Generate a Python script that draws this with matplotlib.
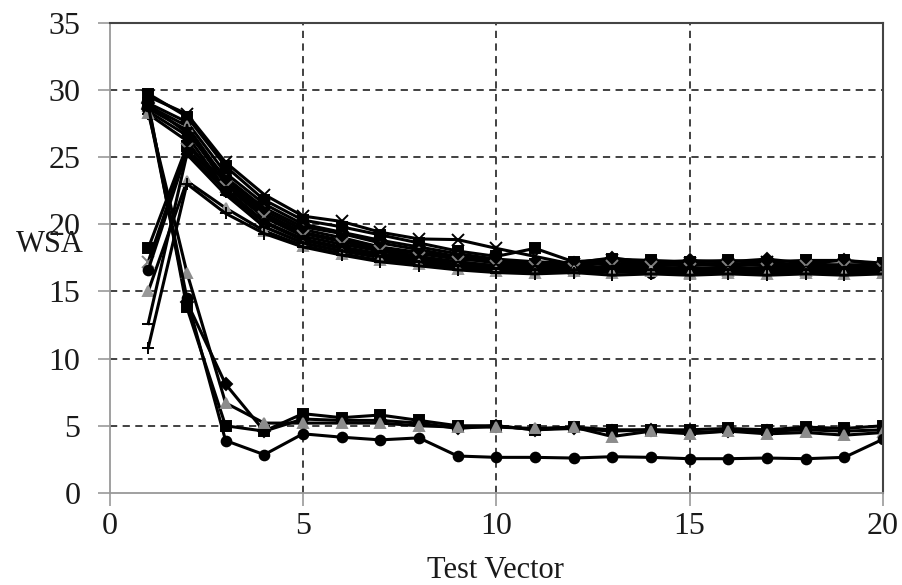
import numpy as np
import matplotlib
matplotlib.use('Agg')
import matplotlib.pyplot as plt

plt.rcParams['font.family'] = ['Liberation Serif', 'DejaVu Serif']

test_vector = list(range(1, 21))

# runs that start high and settle around 17
high_x   = [29.5, 28.2, 24.6, 22.2, 20.6, 20.2, 19.4, 18.9, 18.85, 18.2, 17.6, 17.0, 17.3, 17.0, 17.1, 17.0, 17.2, 16.9, 17.0, 16.9]
high_sq  = [29.7, 28.0, 24.3, 21.8, 20.3, 19.8, 19.2, 18.6, 18.0, 17.6, 18.2, 17.2, 17.4, 17.3, 17.2, 17.3, 17.2, 17.3, 17.3, 17.1]
high_dm  = [29.0, 27.6, 23.8, 21.5, 20.0, 19.4, 18.8, 18.3, 17.8, 17.4, 17.2, 17.1, 17.5, 17.1, 17.3, 17.2, 17.4, 17.1, 17.3, 17.0]
high_tri = [28.8, 27.3, 23.3, 21.0, 19.6, 19.0, 18.3, 17.9, 17.5, 17.1, 16.9, 16.9, 16.7, 16.6, 16.4, 16.5, 16.6, 16.5, 16.6, 16.4]
high_st  = [28.6, 27.0, 23.0, 20.6, 19.3, 18.7, 18.1, 17.6, 17.2, 16.9, 16.8, 16.7, 16.8, 16.7, 16.8, 16.6, 16.8, 16.7, 16.7, 16.6]
high_ci  = [28.4, 26.6, 22.6, 20.2, 18.9, 18.3, 17.8, 17.4, 17.0, 16.8, 16.6, 16.8, 16.6, 16.8, 16.6, 16.7, 16.6, 16.8, 16.6, 16.7]
high_pl  = [28.2, 26.2, 22.4, 19.8, 18.6, 18.0, 17.5, 17.1, 16.8, 16.6, 16.5, 16.4, 16.5, 16.3, 16.6, 16.4, 16.5, 16.4, 16.5, 16.3]
high_da  = [28.9, 26.8, 23.5, 21.2, 19.8, 19.3, 18.6, 18.1, 17.6, 17.3, 17.0, 17.2, 17.0, 17.2, 17.0, 17.1, 16.9, 17.1, 16.9, 17.1]

# runs that start low, peak at vector 2, then join the upper bundle
low_sq  = [18.2, 25.8, 23.2, 20.8, 19.4, 18.8, 18.2, 17.8, 17.4, 17.2, 17.0, 16.9, 17.1, 16.9, 17.0, 16.9, 17.0, 16.8, 16.9, 16.8]
low_x   = [17.2, 25.6, 22.8, 20.5, 19.1, 18.5, 18.0, 17.5, 17.2, 16.9, 16.8, 16.7, 16.9, 16.8, 16.7, 16.8, 16.7, 16.9, 16.8, 16.7]
low_ci  = [16.6, 25.4, 22.5, 20.1, 18.8, 18.2, 17.7, 17.3, 16.9, 16.7, 16.6, 16.5, 16.6, 16.4, 16.6, 16.5, 16.6, 16.5, 16.5, 16.5]
low_tri = [15.0, 23.2, 21.2, 19.5, 18.4, 17.8, 17.3, 17.0, 16.7, 16.5, 16.4, 16.5, 16.4, 16.5, 16.3, 16.4, 16.3, 16.4, 16.3, 16.4]
low_da  = [12.6, 25.2, 22.2, 19.8, 18.6, 18.0, 17.6, 17.2, 16.9, 16.7, 16.6, 16.6, 16.7, 16.6, 16.7, 16.6, 16.7, 16.6, 16.7, 16.6]
low_pl  = [10.8, 23.0, 20.8, 19.3, 18.3, 17.7, 17.2, 16.9, 16.6, 16.4, 16.3, 16.4, 16.2, 16.3, 16.2, 16.3, 16.2, 16.3, 16.2, 16.3]

# runs that collapse to ~5 (and ~2.6)
drop_sq  = [29.0, 13.8, 5.0, 4.6, 5.9, 5.6, 5.8, 5.4, 5.0, 5.0, 4.7, 4.9, 4.7, 4.7, 4.7, 4.8, 4.7, 4.9, 4.8, 5.0]
drop_dm  = [28.6, 14.2, 8.1, 4.6, 5.5, 5.4, 5.4, 5.2, 4.8, 5.0, 4.7, 4.8, 4.6, 4.7, 4.5, 4.6, 4.6, 4.7, 4.6, 4.7]
drop_tri = [28.3, 16.4, 6.7, 5.2, 5.2, 5.2, 5.2, 5.0, 4.9, 4.9, 4.8, 4.9, 4.2, 4.6, 4.4, 4.6, 4.4, 4.5, 4.3, 4.5]
drop_ci  = [28.8, 14.5, 3.9, 2.85, 4.4, 4.15, 3.95, 4.1, 2.75, 2.65, 2.65, 2.6, 2.7, 2.65, 2.55, 2.55, 2.6, 2.55, 2.65, 4.0]

series = [
    (high_x, 'x', 'k'), (high_sq, 's', 'k'), (high_dm, 'D', 'k'), (high_tri, '^', '0.55'),
    (high_st, '*', 'k'), (high_ci, 'o', 'k'), (high_pl, '+', 'k'), (high_da, '_', 'k'),
    (low_sq, 's', 'k'), (low_x, 'x', '0.5'), (low_ci, 'o', 'k'), (low_tri, '^', '0.6'),
    (low_da, '_', 'k'), (low_pl, '+', 'k'),
    (drop_sq, 's', 'k'), (drop_dm, 'D', 'k'), (drop_tri, '^', '0.55'), (drop_ci, 'o', 'k'),
]

fig = plt.figure(figsize=(9.03, 5.85), dpi=100)
ax = fig.add_axes([0.1213, 0.1573, 0.8566, 0.8042])

for vals, mk, mc in series:
    ms = 7
    if mk in ('x', '+', '_'):
        ms = 8
    elif mk == 'D':
        ms = 6
    elif mk == '*':
        ms = 9
    ax.plot(test_vector, vals, color='k', lw=2.2, marker=mk, markersize=ms,
            markerfacecolor=mc, markeredgecolor=mc, markeredgewidth=1.4)

ax.set_xlim(0, 20)
ax.set_ylim(0, 35)
ax.set_xticks([0, 5, 10, 15, 20])
ax.set_yticks([0, 5, 10, 15, 20, 25, 30, 35])

for x in [5, 10, 15]:
    ax.axvline(x, color='#333333', lw=1.3, ls=(0, (4, 3)), zorder=0)
for y in [5, 10, 15, 20, 25, 30]:
    ax.axhline(y, color='#333333', lw=1.3, ls=(0, (4, 3)), zorder=0)

for side in ['left', 'bottom']:
    ax.spines[side].set_color('#999999')
    ax.spines[side].set_linewidth(1.3)
for side in ['top', 'right']:
    ax.spines[side].set_color('#444444')
    ax.spines[side].set_linewidth(1.5)

ax.tick_params(axis='y', direction='out', length=9, width=1.2, color='#999999',
               labelsize=23, pad=12, labelcolor='#1a1a1a')
ax.tick_params(axis='x', direction='out', length=9, width=1.2, color='#999999',
               labelsize=23, pad=5, labelcolor='#1a1a1a')

fig.text(50 / 903, 1 - 244 / 585, 'WSA', fontsize=22, ha='center', va='center', color='#1a1a1a')
fig.text(495 / 903, 1 - 571 / 585, 'Test Vector', fontsize=22, ha='center', va='center', color='#1a1a1a')

fig.savefig('out.png', dpi=100)
